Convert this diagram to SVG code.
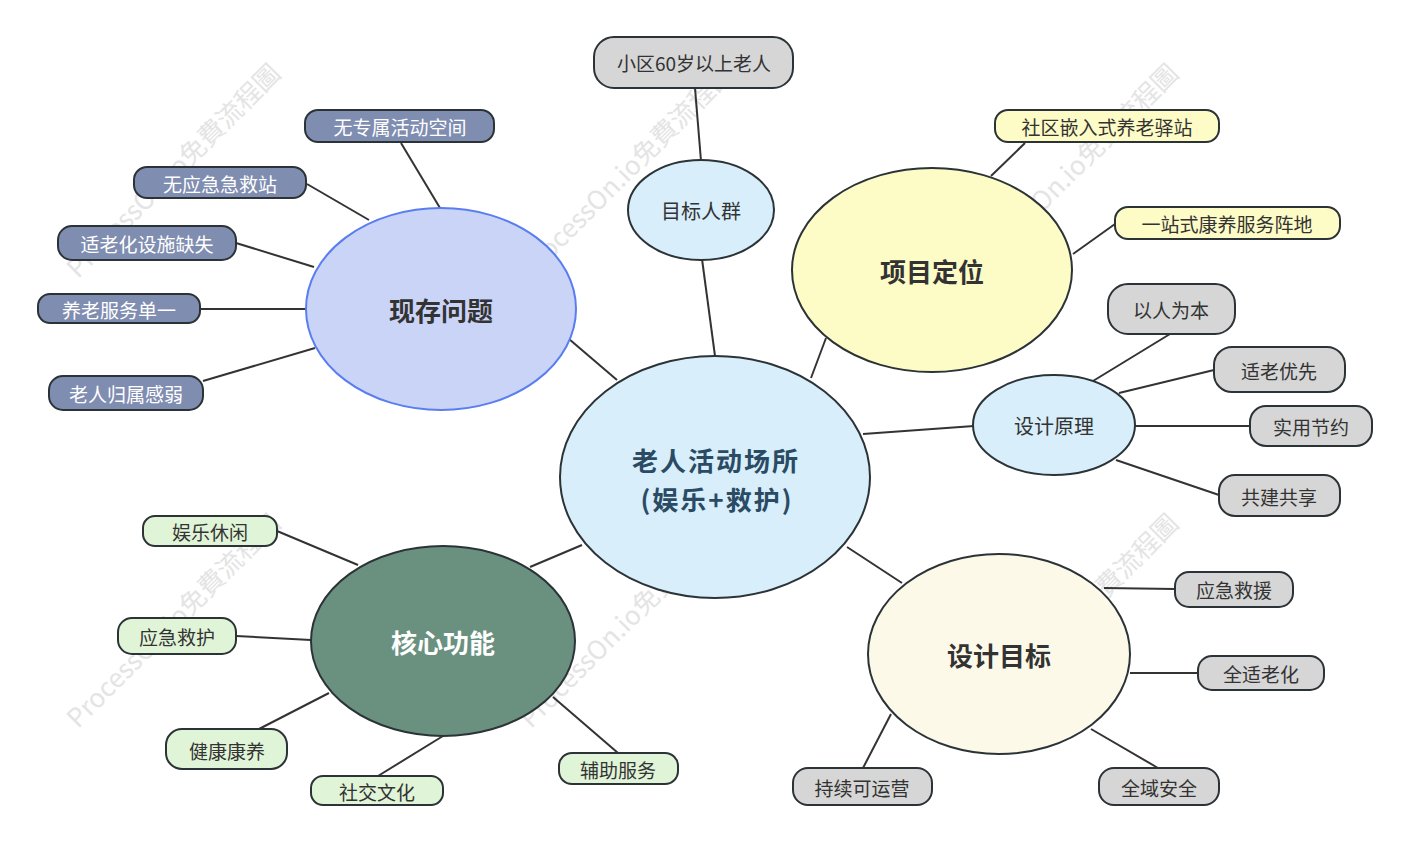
<svg xmlns="http://www.w3.org/2000/svg" width="1409" height="841" viewBox="0 0 1409 841">
<style>
text{font-family:"Noto Sans CJK SC","Noto Sans",sans-serif;text-anchor:middle;dominant-baseline:central;fill:#333}
.wm{font-size:26px;fill:#e4e4e4}
.node{stroke:#2b3337;stroke-width:2}
.leaf{font-size:19px}
.mid{font-size:20px}
.title{font-size:26px;font-weight:bold}
.blue{fill:#7f8db1}
.gray{fill:#d6d6d6}
.yel{fill:#fdfbc6}
.grn{fill:#e0f4d7}
.wt{fill:#fff}
#connectors line{stroke:#333;stroke-width:2}
</style>
<rect width="1409" height="841" fill="#fff"/>
<g id="watermarks">
<text class="wm" transform="translate(172,169) rotate(-45)">ProcessOn.io免費流程圖</text>
<text class="wm" transform="translate(625,169) rotate(-45)">ProcessOn.io免費流程圖</text>
<text class="wm" transform="translate(1070,169) rotate(-45)">ProcessOn.io免費流程圖</text>
<text class="wm" transform="translate(172,619) rotate(-45)">ProcessOn.io免費流程圖</text>
<text class="wm" transform="translate(625,619) rotate(-45)">ProcessOn.io免費流程圖</text>
<text class="wm" transform="translate(1070,619) rotate(-45)">ProcessOn.io免費流程圖</text>
</g>
<g id="connectors">
<line x1="617" y1="380" x2="569" y2="339"/>
<line x1="715" y1="356" x2="702" y2="259"/>
<line x1="811" y1="378" x2="826" y2="338"/>
<line x1="863" y1="434" x2="974" y2="426"/>
<line x1="847" y1="547" x2="902" y2="583"/>
<line x1="582" y1="545" x2="530" y2="567"/>
<line x1="701" y1="161" x2="695" y2="88"/>
<line x1="401" y1="143" x2="440" y2="208"/>
<line x1="307" y1="184" x2="369" y2="220"/>
<line x1="236" y1="243" x2="314" y2="267"/>
<line x1="200" y1="309" x2="306" y2="309"/>
<line x1="203" y1="381" x2="315" y2="348"/>
<line x1="1025" y1="143" x2="991" y2="176"/>
<line x1="1115" y1="224" x2="1073" y2="254"/>
<line x1="1170" y1="334" x2="1093" y2="381"/>
<line x1="1214" y1="370" x2="1119" y2="393"/>
<line x1="1250" y1="426" x2="1135" y2="426"/>
<line x1="1219" y1="495" x2="1116" y2="460"/>
<line x1="1175" y1="589" x2="1104" y2="588"/>
<line x1="1198" y1="673" x2="1130" y2="673"/>
<line x1="1158" y1="768" x2="1091" y2="729"/>
<line x1="863" y1="768" x2="891" y2="714"/>
<line x1="277" y1="531" x2="358" y2="565"/>
<line x1="236" y1="636" x2="311" y2="640"/>
<line x1="259" y1="729" x2="329" y2="693"/>
<line x1="378" y1="776" x2="443" y2="736"/>
<line x1="618" y1="753" x2="553" y2="697"/>
</g>
<g id="center">
<ellipse class="node" cx="715" cy="477" rx="155" ry="121" fill="#d8eefb"/>
<text class="title" x="716" y="459" style="font-size:26px;fill:#2a4b63" letter-spacing="2">老人活动场所</text>
<text class="title" x="717" y="498" style="font-size:26px;fill:#2a4b63" letter-spacing="2">(娱乐+救护)</text>
</g>
<g id="problems">
<ellipse cx="441" cy="309" rx="135" ry="101" fill="#cad4f7" stroke="#5a7df0" stroke-width="2"/>
<text class="title" x="441" y="309">现存问题</text>
</g>
<g id="target">
<ellipse class="node" cx="701" cy="210" rx="73" ry="50" fill="#d8eefb"/>
<text class="mid" x="701" y="210">目标人群</text>
</g>
<g id="positioning">
<ellipse class="node" cx="932" cy="270" rx="140" ry="102" fill="#fdfbc6"/>
<text class="title" x="932" y="270">项目定位</text>
</g>
<g id="principles">
<ellipse class="node" cx="1054" cy="425" rx="81" ry="50" fill="#d8eefb"/>
<text class="mid" x="1054" y="425">设计原理</text>
</g>
<g id="goals">
<ellipse class="node" cx="999" cy="654" rx="131" ry="100" fill="#fcf9e9"/>
<text class="title" x="999" y="654">设计目标</text>
</g>
<g id="functions">
<ellipse class="node" cx="443" cy="641" rx="132" ry="95" fill="#6a917f"/>
<text class="title wt" x="443" y="641">核心功能</text>
</g>
<g id="leaf-p1"><rect class="node blue" x="305" y="110" width="189" height="32" rx="13"/><text class="leaf wt" x="400" y="126">无专属活动空间</text></g>
<g id="leaf-p2"><rect class="node blue" x="134" y="167" width="172" height="31" rx="13"/><text class="leaf wt" x="220" y="183">无应急急救站</text></g>
<g id="leaf-p3"><rect class="node blue" x="58" y="226" width="178" height="34" rx="14"/><text class="leaf wt" x="147" y="243">适老化设施缺失</text></g>
<g id="leaf-p4"><rect class="node blue" x="38" y="294" width="162" height="29" rx="12"/><text class="leaf wt" x="119" y="309">养老服务单一</text></g>
<g id="leaf-p5"><rect class="node blue" x="49" y="376" width="154" height="34" rx="14"/><text class="leaf wt" x="126" y="393">老人归属感弱</text></g>
<g id="leaf-t1"><rect class="node gray" x="594" y="37" width="199" height="51" rx="20"/><text class="leaf" x="694" y="62">小区60岁以上老人</text></g>
<g id="leaf-pos1"><rect class="node yel" x="995" y="110" width="224" height="32" rx="13"/><text class="leaf" x="1107" y="126">社区嵌入式养老驿站</text></g>
<g id="leaf-pos2"><rect class="node yel" x="1115" y="207" width="225" height="32" rx="13"/><text class="leaf" x="1227" y="223">一站式康养服务阵地</text></g>
<g id="leaf-pr1"><rect class="node gray" x="1108" y="284" width="127" height="50" rx="20"/><text class="leaf" x="1171" y="309">以人为本</text></g>
<g id="leaf-pr2"><rect class="node gray" x="1214" y="347" width="131" height="45" rx="18"/><text class="leaf" x="1279" y="370">适老优先</text></g>
<g id="leaf-pr3"><rect class="node gray" x="1250" y="406" width="122" height="40" rx="16"/><text class="leaf" x="1311" y="426">实用节约</text></g>
<g id="leaf-pr4"><rect class="node gray" x="1219" y="475" width="121" height="41" rx="16"/><text class="leaf" x="1279" y="496">共建共享</text></g>
<g id="leaf-g1"><rect class="node gray" x="1175" y="572" width="118" height="35" rx="14"/><text class="leaf" x="1234" y="589">应急救援</text></g>
<g id="leaf-g2"><rect class="node gray" x="1198" y="656" width="126" height="34" rx="14"/><text class="leaf" x="1261" y="673">全适老化</text></g>
<g id="leaf-g3"><rect class="node gray" x="1099" y="768" width="120" height="37" rx="15"/><text class="leaf" x="1159" y="787">全域安全</text></g>
<g id="leaf-g4"><rect class="node gray" x="793" y="768" width="139" height="37" rx="15"/><text class="leaf" x="862" y="787">持续可运营</text></g>
<g id="leaf-f1"><rect class="node grn" x="143" y="516" width="134" height="30" rx="12"/><text class="leaf" x="210" y="531">娱乐休闲</text></g>
<g id="leaf-f2"><rect class="node grn" x="118" y="618" width="118" height="36" rx="14"/><text class="leaf" x="177" y="636">应急救护</text></g>
<g id="leaf-f3"><rect class="node grn" x="166" y="729" width="121" height="40" rx="16"/><text class="leaf" x="227" y="750">健康康养</text></g>
<g id="leaf-f4"><rect class="node grn" x="311" y="776" width="132" height="29" rx="12"/><text class="leaf" x="377" y="791">社交文化</text></g>
<g id="leaf-f5"><rect class="node grn" x="559" y="753" width="119" height="31" rx="13"/><text class="leaf" x="618" y="769">辅助服务</text></g>
</svg>
